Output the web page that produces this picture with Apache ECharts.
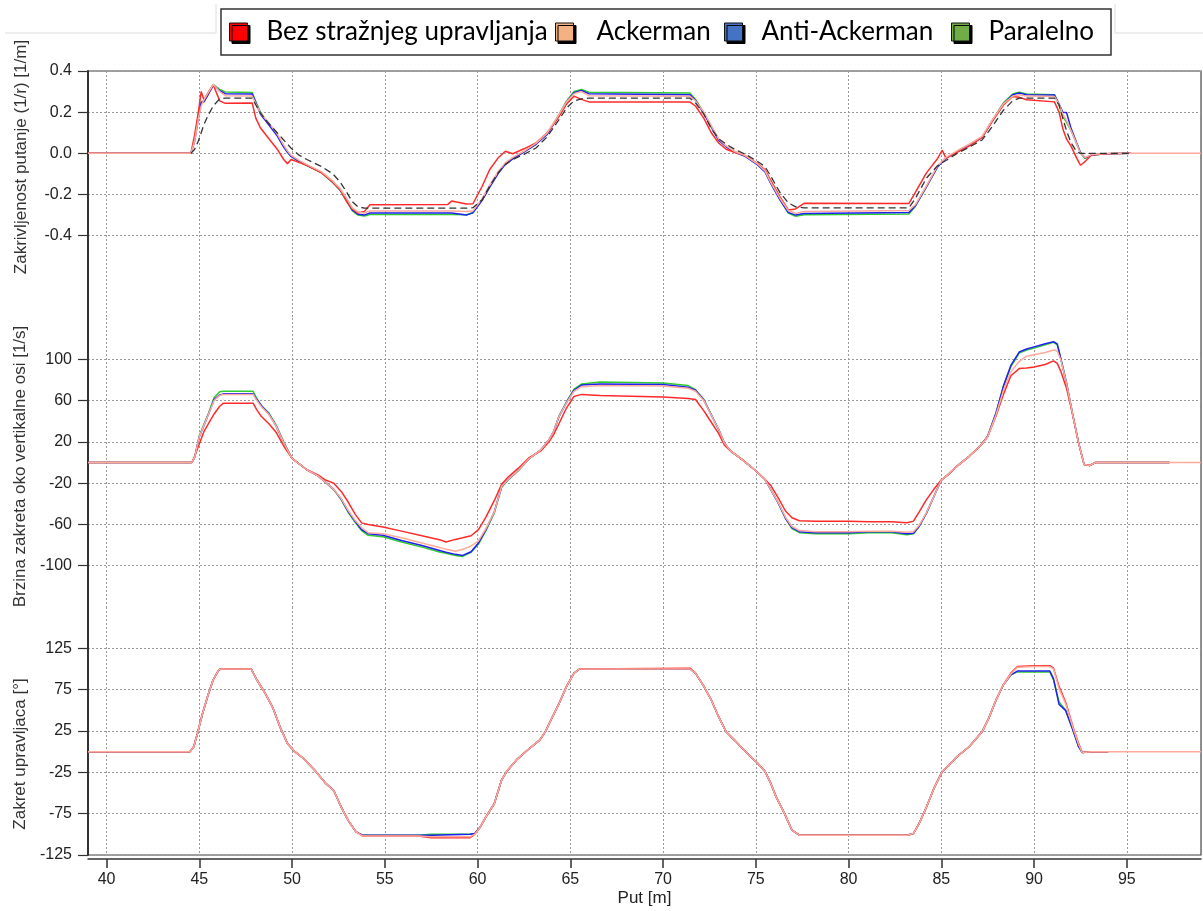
<!DOCTYPE html>
<html><head><meta charset="utf-8">
<script src="https://cdn.jsdelivr.net/npm/echarts@6/dist/echarts.min.js"></script>
<style>html,body{margin:0;padding:0;background:#fff}#c{width:1203px;height:911px}</style>
</head><body><div id="c"></div>
<script>
// ---------- DATA ----------
const seriesNames = ['Bez stražnjeg upravljanja', 'Ackerman', 'Anti-Ackerman', 'Paralelno'];
const refName = 'Referentna putanja';
const xTicks = [40, 45, 50, 55, 60, 65, 70, 75, 80, 85, 90, 95];
const curvTicks = [-0.4, -0.2, 0, 0.2, 0.4];
const yawTicks = [-100, -60, -20, 20, 60, 100];
const steerTicks = [-125, -75, -25, 25, 75, 125];

// Panel 1: Zakrivljenost putanje (1/r) [1/m]
const curvX = [39, 44.55, 44.75, 44.95, 45.1, 45.25, 45.45, 45.75, 46.1, 46.4,
  47.85, 48.05, 48.3, 48.65, 49.2, 49.55, 49.75, 49.95, 50.4, 50.8,
  51.6, 52.2, 52.6, 52.95, 53.25, 53.55, 53.9, 54.2, 58.4, 58.6,
  59.4, 59.75, 60.25, 60.65, 61.1, 61.5, 61.9, 62.5, 63.15, 63.75,
  64.4, 64.8, 65.2, 65.6, 66.0, 71.45, 71.75, 72.2, 72.6, 73.0,
  73.4, 73.85, 74.45, 75.1, 75.5, 75.8, 76.3, 76.75, 77.15, 77.6,
  83.25, 83.6, 84.2, 84.8, 85.05, 85.25, 85.85, 86.5, 87.2, 87.75,
  88.35, 88.85, 89.2, 89.6, 91.1, 91.35, 91.55, 91.75, 92.0, 92.3,
  92.5, 92.75, 93.1, 93.9, 95.2, 99];
const curvBez = [0, 0, 0.09, 0.2, 0.3, 0.26, 0.29, 0.333, 0.255, 0.243,
  0.245, 0.17, 0.123, 0.083, 0.02, -0.03, -0.05, -0.03, -0.045, -0.058,
  -0.095, -0.14, -0.178, -0.235, -0.27, -0.29, -0.282, -0.25, -0.248, -0.232,
  -0.246, -0.245, -0.16, -0.08, -0.023, 0.01, -0.002, 0.022, 0.05, 0.1,
  0.18, 0.24, 0.278, 0.262, 0.25, 0.249, 0.23, 0.17, 0.1, 0.05,
  0.02, 0.005, -0.012, -0.05, -0.08, -0.13, -0.21, -0.275, -0.27, -0.243,
  -0.244, -0.19, -0.095, -0.025, 0.015, -0.023, 0.005, 0.035, 0.078, 0.155,
  0.235, 0.276, 0.272, 0.26, 0.25, 0.2, 0.12, 0.07, 0.034, -0.023,
  -0.058, -0.04, -0.008, -0.002, 0, null];
const curvAck = [0, 0, 0.06, 0.17, 0.23, 0.26, 0.29, 0.335, 0.3, 0.28,
  0.278, 0.24, 0.195, 0.16, 0.095, 0.04, 0.012, -0.01, -0.035, -0.055,
  -0.09, -0.135, -0.172, -0.22, -0.265, -0.285, -0.29, -0.28, -0.28, -0.28,
  -0.282, -0.28, -0.22, -0.155, -0.09, -0.045, -0.02, 0.01, 0.048, 0.098,
  0.19, 0.25, 0.29, 0.3, 0.28, 0.277, 0.255, 0.2, 0.135, 0.07,
  0.036, 0.01, -0.012, -0.052, -0.085, -0.14, -0.218, -0.278, -0.292, -0.282,
  -0.278, -0.25, -0.158, -0.06, -0.038, -0.02, 0.012, 0.044, 0.082, 0.162,
  0.24, 0.278, 0.285, 0.278, 0.276, 0.24, 0.19, 0.16, 0.11, 0.045,
  0.002, -0.02, -0.006, -0.001, 0, 0];
const curvAnti = [0, 0, 0.06, 0.17, 0.25, 0.25, 0.28, 0.33, 0.305, 0.29,
  0.288, 0.245, 0.19, 0.15, 0.085, 0.03, 0.005, -0.015, -0.04, -0.058,
  -0.093, -0.14, -0.178, -0.23, -0.275, -0.296, -0.3, -0.29, -0.29, -0.29,
  -0.3, -0.288, -0.228, -0.165, -0.1, -0.052, -0.027, 0.006, 0.044, 0.092,
  0.185, 0.25, 0.295, 0.305, 0.29, 0.285, 0.258, 0.193, 0.128, 0.064,
  0.032, 0.006, -0.016, -0.056, -0.09, -0.145, -0.225, -0.287, -0.3, -0.292,
  -0.288, -0.255, -0.163, -0.066, -0.042, -0.024, 0.008, 0.04, 0.078, 0.158,
  0.24, 0.285, 0.293, 0.285, 0.283, 0.24, 0.2, 0.198, 0.12, 0.05,
  0.005, -0.022, -0.008, -0.002, 0, null];
const curvPar = [0, 0, 0.07, 0.19, 0.24, 0.26, 0.29, 0.335, 0.31, 0.298,
  0.295, 0.25, 0.2, 0.155, 0.09, 0.036, 0.01, -0.015, -0.04, -0.06,
  -0.095, -0.142, -0.18, -0.235, -0.28, -0.3, -0.305, -0.297, -0.297, -0.297,
  -0.298, -0.29, -0.225, -0.16, -0.095, -0.05, -0.025, 0.008, 0.045, 0.095,
  0.19, 0.255, 0.3, 0.31, 0.297, 0.293, 0.262, 0.196, 0.13, 0.066,
  0.034, 0.008, -0.015, -0.055, -0.088, -0.144, -0.225, -0.29, -0.306, -0.298,
  -0.295, -0.258, -0.16, -0.063, -0.04, -0.022, 0.01, 0.042, 0.08, 0.16,
  0.245, 0.288, 0.297, 0.288, 0.285, 0.235, 0.18, 0.15, 0.11, 0.045,
  0.002, -0.025, -0.008, -0.002, 0, null];
const curvRef = [null, 0, 0.02, 0.06, 0.1, 0.14, 0.18, 0.23, 0.265, 0.268,
  0.268, 0.235, 0.195, 0.155, 0.1, 0.065, 0.045, 0.025, -0.01, -0.03,
  -0.065, -0.1, -0.14, -0.19, -0.235, -0.26, -0.266, -0.266, -0.266, -0.266,
  -0.266, -0.264, -0.225, -0.16, -0.095, -0.055, -0.03, -0.005, 0.026, 0.08,
  0.165, 0.22, 0.255, 0.265, 0.268, 0.268, 0.245, 0.19, 0.12, 0.07,
  0.045, 0.02, -0.005, -0.04, -0.065, -0.11, -0.19, -0.24, -0.26, -0.265,
  -0.265, -0.22, -0.12, -0.06, -0.045, -0.035, 0, 0.03, 0.065, 0.13,
  0.21, 0.255, 0.268, 0.268, 0.268, 0.235, 0.17, 0.11, 0.05, 0.008,
  0, 0, 0, 0, 0, null];

// Panel 2: Brzina zakreta oko vertikalne osi [1/s]
const yawX = [39, 44.6, 44.75, 45.0, 45.25, 45.5, 45.8, 46.1, 46.3, 47.9,
  48.1, 48.35, 48.75, 49.15, 49.55, 50.0, 50.8, 51.4, 51.8, 52.25,
  52.65, 53.05, 53.4, 53.75, 54.1, 54.9, 55.9, 57.0, 58.0, 58.3,
  58.8, 59.2, 59.65, 60.05, 60.45, 60.9, 61.3, 61.65, 62.2, 62.8,
  63.4, 63.85, 64.1, 64.4, 64.8, 65.2, 65.6, 66.6, 70.0, 71.35,
  71.75, 72.2, 72.6, 73.0, 73.3, 73.65, 74.25, 75.0, 75.5, 75.8,
  76.2, 76.6, 76.95, 77.35, 78.2, 80.0, 81.1, 82.3, 83.15, 83.5,
  83.8, 84.2, 84.6, 85.0, 85.35, 85.85, 86.5, 87.1, 87.5, 87.95,
  88.35, 88.75, 89.2, 89.6, 90.0, 90.6, 91.05, 91.25, 91.45, 91.75,
  92.1, 92.4, 92.7, 93.0, 93.3, 97.3, 99];
const yawBez = [0, 0, 6, 18, 30, 38, 47, 54.5, 57.5, 57.5,
  51, 44.5, 37.5, 29, 16, 4, -7, -12, -17, -20,
  -28, -39, -50, -58.5, -60, -62.5, -66.5, -71, -75, -77,
  -74.5, -73, -71, -65, -53, -37, -21, -14, -5.5, 5,
  11, 20, 27, 38, 53, 64, 66, 65, 63.5, 62,
  61, 50, 39, 28, 17, 11, 3, -8, -16.5, -22,
  -34, -47, -53.5, -56.5, -57, -57, -57.3, -57.5, -58.4, -56.8,
  -48, -36, -26, -17, -12, -3.5, 6, 16, 25, 45,
  66, 84, 91, 91.6, 92.5, 95, 98.5, 96, 88, 72,
  45, 19, -2, -3, 0, 0, null];
const yawAck = [0, 0, 5, 25, 36, 47, 60, 65, 66, 66,
  60, 54, 46.5, 35, 19, 4, -7, -13, -19, -26,
  -35, -47, -56, -63, -68, -69, -73, -78, -82.5, -84,
  -86, -84, -81, -76, -64, -48, -23, -16.5, -7.5, 4,
  12, 22, 30, 45, 58, 69, 73.5, 74.5, 74, 72,
  69, 60, 46, 32, 19, 11, 3, -8, -16.5, -26,
  -38.5, -53, -62, -66, -67, -67, -66.5, -66.5, -67.5, -67,
  -61, -48.5, -33, -17, -12, -3.5, 6, 16, 25, 46,
  70, 88, 98, 103, 104.5, 106.5, 109, 108, 99, 77,
  45, 19, -2, -3, 0, 0, 0];
const yawAnti = [0, 0, 5, 25, 36, 47, 61, 65.5, 66.5, 66.5,
  61, 55, 47, 35, 19, 4, -7, -13, -19, -26,
  -35.5, -48, -57, -65, -69, -70.5, -75.5, -80.5, -85.5, -87,
  -89, -90, -86.5, -78, -65, -48, -23, -16.5, -7.5, 4,
  12, 22, 30, 45, 58.5, 70, 75, 76, 75.5, 73,
  70, 60.5, 46, 32, 19, 11, 3, -8, -16.5, -26,
  -39, -54, -63, -67, -68, -68, -67, -67, -69, -68.5,
  -62, -49, -33, -17, -12, -3.5, 6, 16, 25.5, 48,
  74, 94, 107, 110, 112, 115, 117, 115, 100, 77,
  45, 19, -2, -3, 0, 0, null];
const yawPar = [0, 0, 5, 26, 37, 48, 63, 68.5, 69, 69,
  62, 55, 48, 36, 20, 4, -7, -13, -19, -26.5,
  -36, -49, -58, -66, -70.5, -72, -77, -82, -87, -88,
  -90, -91, -87, -79, -66, -49, -24, -17, -8, 4,
  12, 22, 30, 45, 59, 71, 76, 78, 77, 74.5,
  70.5, 61, 46.5, 32, 19, 11, 3, -8, -16.5, -26,
  -39, -54, -64, -68, -69, -69, -68, -68, -70, -69,
  -62, -49, -33, -17, -12, -3.5, 6, 16, 25.5, 48,
  74, 93, 106, 109, 111, 114, 116.5, 114, 100, 77,
  45, 19, -2, -3, 0, 0, null];

// Panel 3: Zakret upravljaca [°]
const steerX = [39, 44.5, 44.7, 44.9, 45.15, 45.45, 45.75, 46.05, 46.2, 47.8,
  48.1, 48.5, 48.95, 49.35, 49.75, 50.1, 50.6, 51.2, 51.8, 52.25,
  52.65, 53.05, 53.45, 53.8, 56.8, 57.5, 59.6, 59.85, 60.15, 60.45,
  60.9, 61.3, 61.6, 62.1, 62.7, 63.35, 63.65, 63.95, 64.4, 64.8,
  65.2, 65.5, 71.45, 71.75, 72.2, 72.6, 73.0, 73.4, 73.85, 74.45,
  75.1, 75.5, 75.8, 76.1, 76.55, 76.95, 77.35, 83.15, 83.5, 83.8,
  84.2, 84.6, 85.05, 85.35, 85.85, 86.5, 87.2, 87.55, 87.95, 88.35,
  88.75, 89.1, 90.0, 90.85, 91.05, 91.35, 91.7, 92.1, 92.4, 92.6,
  93.1, 94.0, 99];
const steerBez = [0, 0, 6, 22, 44, 67, 87, 99, 100, 100,
  87, 72.5, 54, 30, 10, 1, -8, -22, -38, -47,
  -67, -84, -97, -102, -102, -104, -104, -100, -91, -79,
  -63, -34, -23, -10, 2, 14, 24, 38, 58.5, 79,
  95, 100, 101, 95, 79, 62.5, 42, 24, 14, 0,
  -14, -24, -38, -55, -75, -95, -101, -101, -99, -87,
  -67, -44.5, -24, -18, -6, 6, 24, 40, 62.5, 81,
  95, 103, 104, 104, 101, 78.7, 60, 30, 10, -1,
  0, 0, null];
const steerAck = [0, 0, 6, 22, 44, 67, 87, 99, 100, 100,
  87, 72.5, 54, 30, 10, 1, -8, -22, -38, -47,
  -67, -84, -97, -102, -102, -103, -103, -100, -91, -79,
  -63, -34, -23, -10, 2, 14, 24, 38, 58.5, 79,
  95, 100, 100, 95, 79, 62.5, 42, 24, 14, 0,
  -14, -24, -38, -55, -75, -95, -101, -101, -99, -87,
  -67, -44.5, -24, -18, -6, 6, 24, 40, 62.5, 81,
  94, 102, 103, 103, 100, 76, 58, 29, 9, -1,
  0, 0, 0];
const steerAnti = [0, 0, 6, 22, 44, 67, 87, 99, 100, 100,
  87, 72.5, 54, 30, 10, 1, -8, -22, -38, -47,
  -67, -84, -97, -101, -101, -101, -100, -99, -91, -79,
  -63, -34, -23, -10, 2, 14, 24, 38, 58.5, 79,
  95, 100, 100, 95, 79, 62.5, 42, 24, 14, 0,
  -14, -24, -38, -55, -75, -95, -101, -101, -99, -87,
  -67, -44.5, -24, -18, -6, 6, 24, 40, 62.5, 81,
  93, 97.5, 97.5, 97.5, 88, 57, 50, 26, 6, -1,
  0, 0, null];
const steerPar = [0, 0, 6, 22, 44, 67, 87, 99, 100, 100,
  87, 72.5, 54, 30, 10, 1, -8, -22, -38, -47,
  -67, -84, -97, -101, -101, -100, -100, -99, -91, -79,
  -63, -34, -23, -10, 2, 14, 24, 38, 58.5, 79,
  95, 100, 100, 95, 79, 62.5, 42, 24, 14, 0,
  -14, -24, -38, -55, -75, -95, -101, -101, -99, -87,
  -67, -44.5, -24, -18, -6, 6, 24, 40, 62.5, 81,
  93, 96.5, 96.5, 96.5, 87, 60, 50, 26, 6, -1,
  0, 0, null];

// ---------- CHART ----------
const lineColors = ['#ff2a2a', '#ffaa9c', '#2020f0', '#2ecc2e'];
const legendColors = ['#ff0000', '#f4b183', '#4472c4', '#70ad47'];
const AX = '#333';
const GRIDC = '#9a9a9a';
const LBL = {fontFamily: 'Liberation Sans, Arial, sans-serif', fontSize: 16, color: '#222'};

function pairs(xs, ys) {
  return xs.map((x, i) => [x, ys[i]]).filter(p => p[1] !== null && p[1] !== undefined);
}
function mkLine(name, xs, ys, gi, color, extra) {
  return Object.assign({
    name: name, type: 'line', xAxisIndex: gi, yAxisIndex: gi,
    data: pairs(xs, ys), showSymbol: false, symbol: 'none',
    lineStyle: {color: color, width: 1.5}, itemStyle: {color: color},
    silent: true, animation: false
  }, extra || {});
}

const grids = [
  {left: 88, right: 2, top: 71, height: 247},
  {left: 88, right: 2, top: 318, height: 289},
  {left: 88, right: 2, top: 607, height: 248},
  {left: 88, right: 2, top: 71, height: 784, show: true, borderColor: '#444', borderWidth: 1.2, backgroundColor: 'transparent'}
];

function xAx(gi, visible) {
  return {
    type: 'value', gridIndex: gi, min: 39, max: 99, splitNumber: 12,
    offset: visible ? 4 : 0,
    axisLine: {show: visible, onZero: false, lineStyle: {color: AX, width: 1.5}},
    axisTick: {show: visible, length: 9, lineStyle: {color: AX, width: 1.5}, customValues: xTicks},
    axisLabel: Object.assign({show: visible, margin: 13, customValues: xTicks}, LBL),
    splitLine: {show: true, lineStyle: {color: GRIDC, type: [2, 2], width: 1}},
    name: visible ? 'Put [m]' : '', nameLocation: 'middle', nameGap: 31,
    nameTextStyle: {fontFamily: 'Liberation Sans, Arial, sans-serif', fontSize: 17, color: '#222'}
  };
}
function yAx(gi, min, max, interval, ticks, fmt, name, pad) {
  return {
    type: 'value', gridIndex: gi, min: min, max: max, interval: interval,
    axisLine: {show: true, onZero: false, lineStyle: {color: AX, width: 2}},
    axisTick: {show: true, length: 10, lineStyle: {color: AX, width: 1.2}, customValues: ticks},
    axisLabel: Object.assign({margin: 16, customValues: ticks, formatter: fmt}, LBL),
    splitLine: {show: true, lineStyle: {color: GRIDC, type: [2, 2], width: 1}},
    name: name, nameLocation: 'middle', nameGap: 58,
    nameTextStyle: {fontFamily: 'Liberation Sans, Arial, sans-serif', fontSize: 17, color: '#333', padding: pad}
  };
}

const legendLeft = [229, 555, 724, 951];
const legendTextPad = [14, 18, 14, 14];

const option = {
  animation: false,
  backgroundColor: '#fff',
  grid: grids,
  xAxis: [xAx(0, false), xAx(1, false), xAx(2, true),
    {type: 'value', gridIndex: 3, min: 0, max: 1, show: false}],
  yAxis: [
    yAx(0, -0.8, 0.4, 0.2, curvTicks, v => { const r = Math.round(v * 10) / 10; return (r >= -0.41 && r <= 0.41) ? r.toFixed(1) : ''; },
      'Zakrivljenost putanje (1/r) [1/m]', [0, 0, 0, 75]),
    yAx(1, -140, 140, 40, yawTicks, v => { const r = Math.round(v); return (r >= -100 && r <= 100) ? String(r) : ''; },
      'Brzina zakreta oko vertikalne osi [1/s]', [0, 8, 0, 0]),
    yAx(2, -125, 175, 50, steerTicks, v => { const r = Math.round(v); return (r <= 125) ? String(r) : ''; },
      'Zakret upravljaca [°]', [0, 46, 0, 0]),
    {type: 'value', gridIndex: 3, min: 0, max: 1, show: false}
  ],
  legend: seriesNames.map((n, i) => ({
    data: [{name: n, itemStyle: {color: legendColors[i]}}],
    left: legendLeft[i], top: 19, padding: 0,
    icon: 'rect', itemWidth: 18, itemHeight: 18,
    itemStyle: {borderColor: '#111', borderWidth: 1, shadowColor: '#000', shadowOffsetX: 2.5, shadowOffsetY: 2.5, shadowBlur: 0},
    textStyle: {fontFamily: 'Lato, Carlito, sans-serif', fontSize: 26, color: '#000', padding: [0, 0, 0, legendTextPad[i]]}
  })),
  graphic: [
    {type: 'rect', z: 0, shape: {x: 221, y: 9, width: 890, height: 46}, style: {fill: 'none', stroke: '#333', lineWidth: 1.5}},
    {type: 'polyline', z: 0, shape: {points: [[5, 33], [216, 33], [216, 4]]}, style: {fill: 'none', stroke: '#dcdcdc', lineWidth: 1}},
    {type: 'polyline', z: 0, shape: {points: [[1115, 4], [1115, 33], [1203, 33]]}, style: {fill: 'none', stroke: '#dcdcdc', lineWidth: 1}}
  ],
  series: [
    mkLine(seriesNames[3], curvX, curvPar, 0, lineColors[3]),
    mkLine(seriesNames[2], curvX, curvAnti, 0, lineColors[2]),
    mkLine(seriesNames[0], curvX, curvBez, 0, lineColors[0]),
    mkLine(seriesNames[1], curvX, curvAck, 0, lineColors[1]),
    mkLine(refName, curvX, curvRef, 0, '#333', {lineStyle: {color: '#333', width: 1.3, type: [7, 4]}}),

    mkLine(seriesNames[3], yawX, yawPar, 1, lineColors[3]),
    mkLine(seriesNames[2], yawX, yawAnti, 1, lineColors[2]),
    mkLine(seriesNames[0], yawX, yawBez, 1, lineColors[0]),
    mkLine(seriesNames[1], yawX, yawAck, 1, lineColors[1]),

    mkLine(seriesNames[3], steerX, steerPar, 2, lineColors[3]),
    mkLine(seriesNames[2], steerX, steerAnti, 2, lineColors[2]),
    mkLine(seriesNames[0], steerX, steerBez, 2, lineColors[0]),
    mkLine(seriesNames[1], steerX, steerAck, 2, lineColors[1])
  ]
};

const chart = echarts.init(document.getElementById('c'), null, {renderer: 'canvas'});
chart.setOption(option);
</script>
</body></html>
